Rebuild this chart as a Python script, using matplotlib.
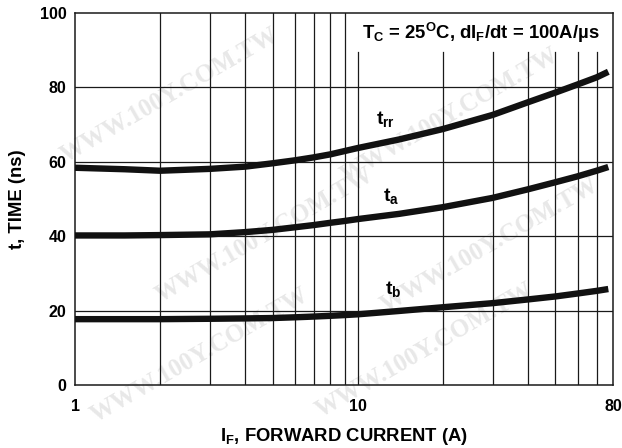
import matplotlib
matplotlib.use("Agg")
import matplotlib.pyplot as plt
import numpy as np

# ---- data ----
I_F = [1, 1.5, 2, 3, 4, 5, 6, 7, 8, 9, 10, 14, 20, 30, 40, 50, 60, 70, 77]
t_rr = [58.4, 58.0, 57.6, 58.1, 58.7, 59.6, 60.4, 61.2, 62.0, 62.9, 63.7, 66.0, 68.8, 72.6, 76.0, 78.6, 80.8, 82.7, 84.2]
t_a = [40.2, 40.2, 40.3, 40.5, 41.1, 41.7, 42.4, 43.0, 43.6, 44.1, 44.6, 46.0, 47.8, 50.3, 52.6, 54.5, 56.1, 57.6, 58.6]
t_b = [17.7, 17.7, 17.7, 17.8, 17.9, 18.0, 18.2, 18.4, 18.6, 18.8, 19.0, 19.9, 20.9, 22.0, 23.0, 23.8, 24.6, 25.3, 25.8]

x_ticks = [1, 10, 80]
x_ticklabels = ["1", "10", "80"]
y_ticks = [0, 20, 40, 60, 80, 100]
x_grid = [2, 3, 4, 5, 6, 7, 8, 9, 10, 20, 30, 40, 50, 60, 70]
y_grid = [20, 40, 60, 80]

plt.rcParams['font.family'] = ['Liberation Sans', 'DejaVu Sans']
plt.rcParams['font.weight'] = 'bold'
plt.rcParams['mathtext.fontset'] = 'custom'
plt.rcParams['mathtext.rm'] = 'Liberation Sans:bold'
plt.rcParams['mathtext.it'] = 'Liberation Sans:bold'
plt.rcParams['mathtext.bf'] = 'Liberation Sans:bold'

W, H = 622, 448
fig = plt.figure(figsize=(W/100, H/100), dpi=100)
ax = fig.add_axes([75/W, 63/H, 538/W, 372/H])
ax.patch.set_alpha(0)

# faint watermark
wm_px = [(170, 95), (450, 115), (265, 235), (490, 245), (200, 355), (425, 350)]
for (px, py) in wm_px:
    fig.text(px/W, 1 - py/H, "WWW.100Y.COM.TW", fontsize=18, family='Liberation Serif',
             weight='bold', color='#e8e8e8', rotation=30, ha='center', va='center',
             zorder=-5)

ax.set_xscale('log')
ax.set_xlim(1, 80)
ax.set_ylim(0, 100)

for xv in x_grid:
    top = 89.5 if xv >= 10 else 100
    ax.plot([xv, xv], [0, top], color='#1a1a1a', lw=0.9, zorder=1)
for yv in y_grid:
    ax.axhline(yv, color='#1a1a1a', lw=0.9, zorder=1)

for s in ax.spines.values():
    s.set_linewidth(1.1)
    s.set_color('#1a1a1a')

for series in (t_rr, t_a, t_b):
    ax.plot(I_F, series, color='#111111', lw=4.6, solid_capstyle='butt',
            solid_joinstyle='round', zorder=3)

ax.set_xticks(x_ticks)
ax.set_xticklabels(x_ticklabels)
ax.xaxis.set_minor_locator(matplotlib.ticker.NullLocator())
ax.set_yticks(y_ticks)
ax.tick_params(axis='y', length=0, labelsize=11.5, pad=6)
ax.tick_params(axis='x', length=0, labelsize=11.5, pad=10)
for lab in ax.get_xticklabels() + ax.get_yticklabels():
    lab.set_fontweight('bold')

ax.set_xlabel(r"I$_\mathrm{F}$, FORWARD CURRENT (A)", fontsize=13.3, fontweight='bold', labelpad=9)
ax.set_ylabel("t, TIME (ns)", fontsize=13.3, fontweight='bold', labelpad=10)

ax.text(0.755, 0.946, r"T$_\mathrm{C}$ = 25$^\mathrm{O}$C, dI$_\mathrm{F}$/dt = 100A/µs",
        transform=ax.transAxes, ha='center', va='center', fontsize=13.3, fontweight='bold')

ax.text(11.6, 71.5, r"t$_\mathrm{rr}$", fontsize=14, fontweight='bold', ha='left', va='center')
ax.text(12.3, 50.8, r"t$_\mathrm{a}$", fontsize=14, fontweight='bold', ha='left', va='center')
ax.text(12.5, 25.8, r"t$_\mathrm{b}$", fontsize=14, fontweight='bold', ha='left', va='center')

fig.savefig("out.png", dpi=100)
